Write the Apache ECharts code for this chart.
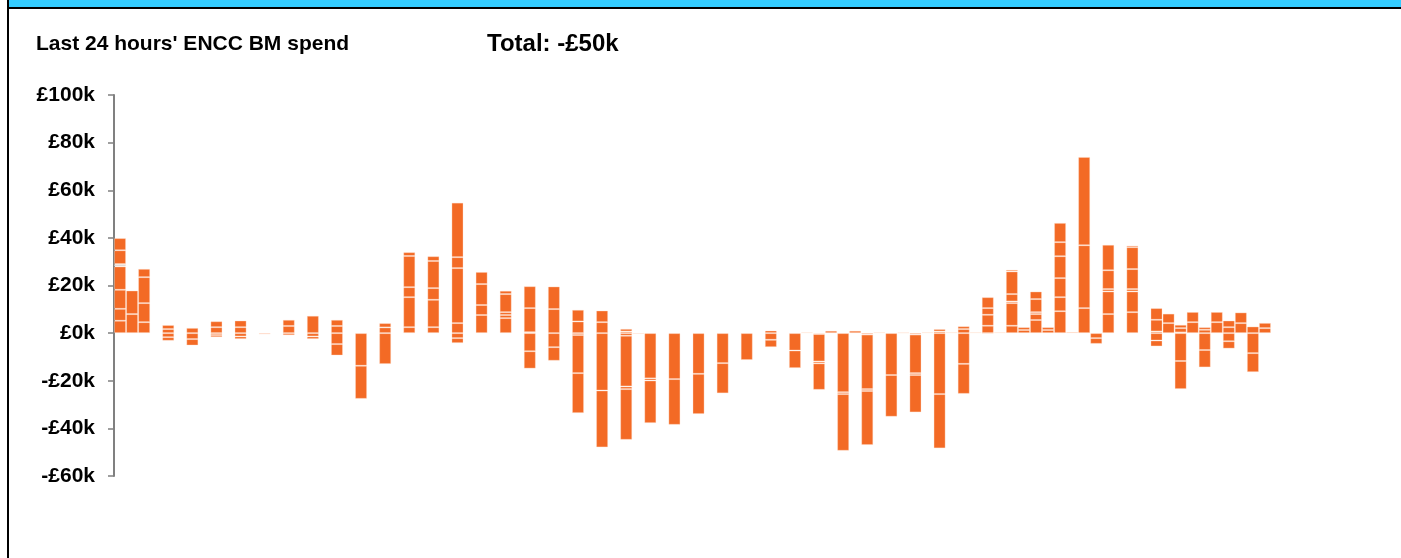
<!DOCTYPE html>
<html>
<head>
<meta charset="utf-8">
<title>ENCC BM spend</title>
<script src="https://cdn.jsdelivr.net/npm/echarts@6/dist/echarts.min.js"></script>
<style>
  html, body { margin: 0; padding: 0; background: #fff; }
  #chart { width: 1401px; height: 558px; }
</style>
</head>
<body>
<div id="chart"></div>
<script>
// 96 slots across the last 24 hours, bars sit in some of them
const slotCount = 96
const slotLabels = Array.from({ length: slotCount }, (_, i) => String(i))

// slot index of each bar
const barSlots = [
  0, 1, 2, 4, 6, 8, 10, 12, 14, 16, 18, 20, 22, 24, 26, 28, 30, 32, 34, 36,
  38, 40, 42, 43, 44, 46, 48, 50, 52, 54, 56, 57, 58, 59, 60, 61, 62, 63, 64, 65,
  66, 67, 68, 69, 70, 71, 72, 73, 74, 75, 76, 77, 78, 79, 80, 81, 82, 84, 86, 87,
  88, 89, 90, 91, 92, 93, 94, 95
]

// positive actions (£k), stacked from zero upwards
const positiveParts = [
  [5.2, 5.0, 8.0, 9.8, 1.0, 5.8, 5.1], [8.0, 9.9], [4.6, 8.0, 10.9, 3.5], [1.7, 1.7],
  [2.2], [2.5, 2.5], [2.5, 2.8], [], [3.0, 2.6], [7.3], [3.0, 2.6], [], [2.4, 1.8],
  [2.5, 12.6, 4.2, 13.1, 1.6], [2.5, 11.5, 4.9, 11.4, 2.0], [4.2, 23.1, 4.6, 22.9],
  [7.6, 4.2, 8.8, 5.1], [6.3, 1.3, 1.2, 7.6, 1.4], [0.4, 10.1, 9.2], [10.1, 9.5],
  [4.9, 4.9], [4.6, 4.9], [0.7, 1.1], [], [], [], [], [], [], [1.1], [], [0.4], [],
  [1.0], [], [1.0], [], [0.4], [], [0.3], [], [0.4], [0.7, 1.0], [0.4], [1.7, 1.2],
  [0.4], [3.1, 4.6, 2.8, 4.6], [0.4], [3.1, 9.5, 0.7, 3.1, 9.5, 0.7], [1.3, 1.2],
  [5.5, 2.5, 0.8, 5.5, 3.2], [1.3, 1.2], [9.2, 5.9, 8.0, 9.2, 5.9, 8.1], [0.5],
  [10.5, 26.4, 37.1], [], [8.0, 9.5, 1.0, 7.9, 10.7], [8.8, 8.7, 1.0, 8.4, 9.2, 0.7],
  [0.7, 4.9, 4.9], [4.2, 4.0], [0.3, 1.8, 1.4], [4.6, 4.3], [1.4, 1.1], [4.6, 4.3],
  [2.5, 2.8], [4.2, 4.5], [2.8], [2.1, 2.2]
]

// negative actions (£k, magnitudes), stacked from zero downwards
const negativeParts = [
  [], [], [], [1.7, 1.5], [2.5, 2.7], [0.8, 0.9], [1.4, 1.1], [0.5], [0.9], [1.4, 1.1],
  [4.6, 4.8], [13.7, 13.9], [13.0], [], [], [2.1, 2.1], [], [], [7.6, 7.3], [5.9, 5.7],
  [0.8, 16.0, 16.8], [24.1, 23.9], [1.1, 21.3, 1.1, 21.3], [0.3], [19.0, 0.9, 17.9],
  [19.3, 19.2], [17.1, 16.9], [12.6, 12.7], [11.3], [2.8, 3.1], [7.3, 7.4], [],
  [0.4, 11.5, 0.8, 11.1], [], [24.8, 0.8, 23.8], [], [0.6, 22.9, 0.8, 22.7], [],
  [17.6, 17.5], [], [0.6, 16.2, 0.8, 15.7], [], [25.6, 22.8], [], [12.9, 12.6], [],
  [0.3], [], [], [], [], [], [], [], [], [2.1, 2.4], [], [], [3.1, 2.5], [],
  [11.7, 11.8], [], [7.1, 7.3], [], [3.4, 3.1], [], [8.4, 8.0], []
]

// [bar, layer] of the one grey segment in the first bar
const greyParts = [[0, 4]]

const yTicks = [-60, -40, -20, 0, 20, 40, 60, 80, 100]

const orange = '#f36a25'
const font = "'Liberation Sans', Arial, sans-serif"

function buildLayers(parts, sign, name) {
  const depth = Math.max(...parts.map(p => p.length))
  const layers = []
  for (let layer = 0; layer < depth; layer++) {
    const data = new Array(slotCount).fill(null)
    parts.forEach((segs, bar) => {
      if (segs[layer] == null) return
      const isGrey = sign > 0 && greyParts.some(g => g[0] === bar && g[1] === layer)
      data[barSlots[bar]] = isGrey
        ? { value: segs[layer], itemStyle: { color: '#d9d9d9' } }
        : sign * segs[layer]
    })
    layers.push({
      name: name + layer,
      type: 'bar',
      stack: 'spend',
      barCategoryGap: '0%',
      barGap: '0%',
      data: data,
      itemStyle: {
        color: orange,
        borderColor: 'rgba(255,220,200,0.35)',
        borderWidth: 1
      }
    })
  }
  return layers
}

const chart = echarts.init(document.getElementById('chart'))

const option = {
  animation: false,
  textStyle: { fontFamily: font },
  title: [
    {
      text: "Last 24 hours' ENCC BM spend",
      left: 36,
      top: 34,
      padding: 0,
      textStyle: { fontSize: 21, fontWeight: 'bold', color: '#000', fontFamily: font }
    },
    {
      text: 'Total: -£50k',
      left: 487,
      top: 32,
      padding: 0,
      textStyle: { fontSize: 24, fontWeight: 'bold', color: '#000', fontFamily: font }
    }
  ],
  graphic: [
    { type: 'rect', shape: { x: 8, y: 0, width: 1393, height: 7 }, style: { fill: '#33ccff' }, silent: true },
    { type: 'rect', shape: { x: 8, y: 7, width: 1393, height: 2 }, style: { fill: '#000' }, silent: true },
    { type: 'rect', shape: { x: 7, y: 0, width: 2, height: 558 }, style: { fill: '#000' }, silent: true }
  ],
  grid: { left: 114, top: 95, width: 1157, height: 381, containLabel: false },
  xAxis: {
    type: 'category',
    data: slotLabels,
    show: false
  },
  yAxis: {
    type: 'value',
    min: yTicks[0],
    max: yTicks[yTicks.length - 1],
    interval: 20,
    splitLine: { show: false },
    axisLine: { show: true, lineStyle: { color: '#808080', width: 2 } },
    axisTick: { show: true, length: 6, lineStyle: { color: '#808080', width: 1.5 } },
    axisLabel: {
      margin: 19,
      color: '#000',
      fontSize: 21,
      fontWeight: 'bold',
      fontFamily: font,
      formatter: v => (v < 0 ? '-£' + (-v) : '£' + v) + 'k'
    }
  },
  series: [
    ...buildLayers(positiveParts, 1, 'pos'),
    ...buildLayers(negativeParts, -1, 'neg')
  ]
}

chart.setOption(option)
</script>
</body>
</html>
